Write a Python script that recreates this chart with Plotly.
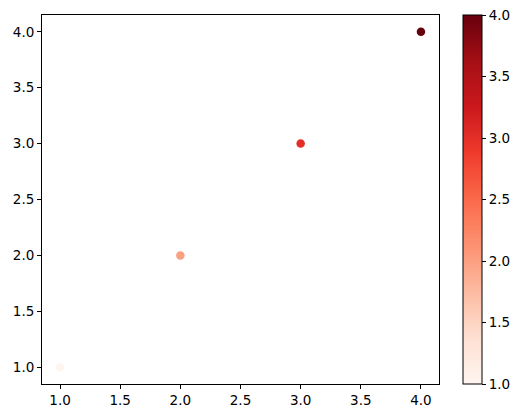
import plotly.graph_objects as go

x_vals = [1, 2, 3, 4]
y_vals = [1, 2, 3, 4]
c_vals = [1, 2, 3, 4]
tick_vals = [1.0, 1.5, 2.0, 2.5, 3.0, 3.5, 4.0]

reds = [[0.0, "#fff5f0"], [0.125, "#fee0d2"], [0.25, "#fcbba1"], [0.375, "#fc9272"],
        [0.5, "#fb6a4a"], [0.625, "#ef3b2c"], [0.75, "#cb181d"], [0.875, "#a50f15"],
        [1.0, "#67000d"]]

font = dict(family="DejaVu Sans", size=13.5, color="black")

fig = go.Figure(go.Scatter(
    x=x_vals, y=y_vals, mode="markers",
    marker=dict(
        color=c_vals, colorscale=reds, cmin=1, cmax=4, size=8.5,
        line=dict(width=0),
        colorbar=dict(
            thickness=19, len=1, lenmode="fraction", x=1.0605, xanchor="left",
            y=0.5, yanchor="middle", outlinewidth=1, outlinecolor="black",
            ticks="outside", ticklen=4, tickcolor="black", tickwidth=1,
            tickvals=tick_vals, tickformat=".1f", ticklabeloverflow="allow",
            tickfont=font, xpad=0, ypad=0,
        ),
    ),
    showlegend=False,
))

axis_common = dict(
    showgrid=False, zeroline=False, showline=True, linecolor="black", linewidth=1,
    mirror=True, ticks="outside", ticklen=4, tickcolor="black", tickwidth=1,
    tickfont=font, tickformat=".1f", tickvals=tick_vals,
    automargin=False,
)

fig.update_layout(
    width=507, height=402,
    margin=dict(l=34, r=76, t=7, b=26, autoexpand=False),
    paper_bgcolor="white", plot_bgcolor="white",
    xaxis=dict(range=[0.85, 4.15], **axis_common),
    yaxis=dict(range=[0.85, 4.15], **axis_common),
    font=font,
)

fig.write_html("out.html")
